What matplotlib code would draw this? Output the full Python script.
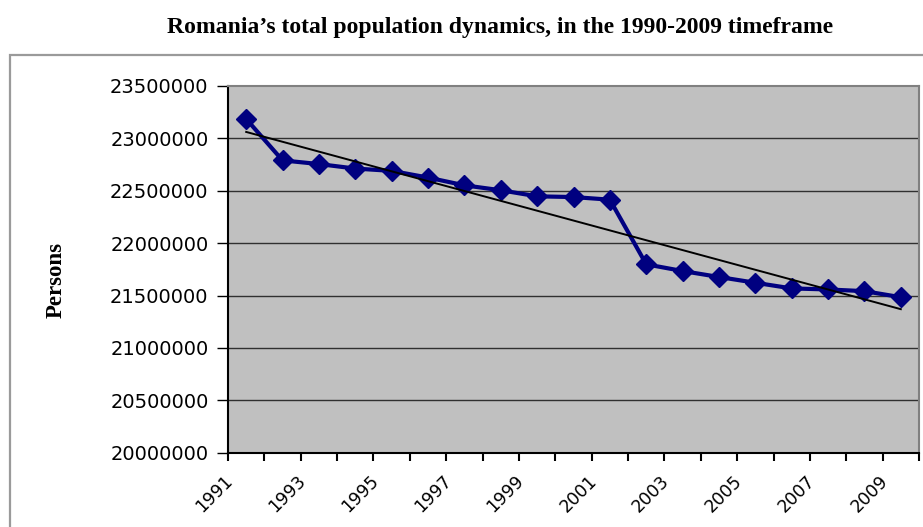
import numpy as np
import matplotlib
matplotlib.use("Agg")
import matplotlib.pyplot as plt
from matplotlib.patches import Rectangle
from matplotlib.transforms import ScaledTranslation

# values
years = list(range(1991, 2010))
population = [23185000, 22790000, 22755000, 22712000, 22690000, 22626000,
              22552000, 22505000, 22447000, 22440000, 22415000, 21798000,
              21734000, 21677000, 21622000, 21568000, 21558000, 21542000,
              21484000]
year_labels = [str(y) for y in years[::2]]
y_ticks = list(range(20000000, 23500001, 500000))

fig = plt.figure(figsize=(9.23, 5.27), dpi=100)
W, H = 923, 527
ax = fig.add_axes([228 / W, 1 - 452.7 / H, (919 - 228) / W, (452.7 - 86) / H])

# outer chart frame (cut off at the right and bottom like the reference)
fig.patches.append(Rectangle((9.5 / W, -0.1), 1.2, 1 - 54.5 / H + 0.1,
                             transform=fig.transFigure, fill=False,
                             edgecolor="#9a9a9a", linewidth=1.6))

x = np.arange(len(years))
ax.set_facecolor("#c0c0c0")
ax.set_xlim(-0.5, len(years) - 0.5)
ax.set_ylim(y_ticks[0], y_ticks[-1])

for v in y_ticks[1:-1]:
    ax.axhline(v, color="#303030", linewidth=1.0, zorder=1)

ax.plot(x, population, color="#000080", linewidth=3, marker="D",
        markersize=10, zorder=3)

# linear trendline
k, b = np.polyfit(x, population, 1)
ax.plot(x, k * x + b, color="black", linewidth=1.4, zorder=4)

ax.set_yticks(y_ticks)
ax.set_yticklabels([str(v) for v in y_ticks], fontsize=14,
                   family="DejaVu Sans")
ax.tick_params(axis="y", direction="out", length=8, width=1, pad=6)

ax.set_xticks(np.arange(len(years) + 1) - 0.5)
ax.set_xticklabels([year_labels[i // 2] if i % 2 == 0 else ""
                    for i in range(len(years) + 1)],
                   rotation=45, ha="right", rotation_mode="anchor",
                   fontsize=12.5, family="DejaVu Sans")
ax.tick_params(axis="x", direction="out", length=6, width=1.5, pad=8)
shift = ScaledTranslation(-4 / 100, 0, fig.dpi_scale_trans)
for lab in ax.get_xticklabels():
    lab.set_transform(lab.get_transform() + shift)

for side in ["left", "bottom"]:
    ax.spines[side].set_color("black")
    ax.spines[side].set_linewidth(1.5)
for side in ["top", "right"]:
    ax.spines[side].set_color("#808080")
    ax.spines[side].set_linewidth(1.5)

ax.set_ylabel("Persons", fontsize=16.5, family="Liberation Serif",
              fontweight="bold")
ax.yaxis.set_label_coords(-0.233, 0.47)

fig.text(500 / W, 1 - 28 / H, "Romania\u2019s total population dynamics, in the 1990-2009 timeframe",
         ha="center", va="center", fontsize=17, family="Liberation Serif",
         fontweight="bold")

fig.savefig("out.png", dpi=100)
